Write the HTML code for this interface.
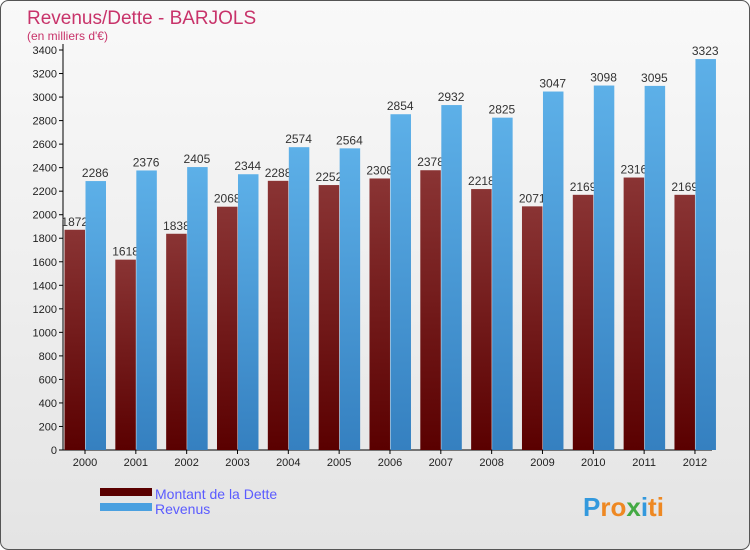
<!DOCTYPE html>
<html><head><meta charset="utf-8"><style>
body{margin:0;background:#fff}
svg{display:block;font-family:"Liberation Sans",sans-serif}
</style></head><body>
<svg width="750" height="550" viewBox="0 0 750 550">
<defs>
<linearGradient id="bg" x1="0" y1="0" x2="0" y2="1"><stop offset="0" stop-color="#f9f9f9"/><stop offset="1" stop-color="#e4e4e4"/></linearGradient>
<linearGradient id="gr" x1="0" y1="0" x2="0" y2="1"><stop offset="0" stop-color="#8a3434"/><stop offset="1" stop-color="#5a0000"/></linearGradient>
<linearGradient id="gb" x1="0" y1="0" x2="0" y2="1"><stop offset="0" stop-color="#5db0e8"/><stop offset="1" stop-color="#3580c0"/></linearGradient>
</defs>
<rect x="0.5" y="0.5" width="749" height="549" rx="8" fill="url(#bg)" stroke="#555"/>
<text x="27" y="24" font-size="19" fill="#c8336a">Revenus/Dette - BARJOLS</text>
<text x="27" y="40" font-size="12" fill="#c8336a">(en milliers d'€)</text>
<g id="axes"></g>
<g id="marks"></g>
<g>
<rect x="100" y="488" width="52" height="8" fill="#5a0000"/>
<text x="155" y="499" font-size="14" fill="#5b5bff">Montant de la Dette</text>
<rect x="100" y="503" width="52" height="8" fill="#4aa0e0"/>
<text x="155" y="514" font-size="14" fill="#5b5bff">Revenus</text>
</g>
<text x="583" y="516" font-size="26" font-weight="bold" fill="#f0a020"><tspan fill="#3399dd">P</tspan><tspan fill="#ee8822">ro</tspan><tspan fill="#44aa44">x</tspan><tspan fill="#3399dd">i</tspan><tspan fill="#ee8822">ti</tspan></text>
</svg>
<script>
const years=["2000","2001","2002","2003","2004","2005","2006","2007","2008","2009","2010","2011","2012"];
const dette=[1872,1618,1838,2068,2288,2252,2308,2378,2218,2071,2169,2316,2169];
const revenus=[2286,2376,2405,2344,2574,2564,2854,2932,2825,3047,3098,3095,3323];
const yTicks=[0,200,400,600,800,1000,1200,1400,1600,1800,2000,2200,2400,2600,2800,3000,3200,3400];
const NS="http://www.w3.org/2000/svg";
const x0=63,y0=450,yTop=50,yMax=3400,step=50.83,first=85,bw=20.5;
const Y=v=>y0-(v/yMax)*(y0-yTop);
const X=i=>first+i*step;
function mk(t,a,p){const e=document.createElementNS(NS,t);for(const k in a)e.setAttribute(k,a[k]);p.appendChild(e);return e;}
const ax=document.getElementById('axes'),mg=document.getElementById('marks');
yTicks.forEach(v=>{
 const l=mk('line',{x1:x0-4,x2:x0,y1:Y(v),y2:Y(v),stroke:'#000'},ax);
 
 
 const t=mk('text',{x:x0-6,y:Y(v)+4,'font-size':11,'text-anchor':'end',fill:'#222'},ax);
 t.textContent=v;
 
 
});
const ya=mk('line',{x1:x0,x2:x0,y1:44,y2:y0,stroke:'#000'},ax);


const xa=mk('line',{x1:x0,x2:712,y1:y0,y2:y0,stroke:'#000'},ax);


years.forEach((y,i)=>{
 const tk=mk('line',{x1:X(i),x2:X(i),y1:y0,y2:y0+4,stroke:'#000'},ax);
 
 
 const t=mk('text',{x:X(i),y:y0+16,'font-size':11,'text-anchor':'middle',fill:'#222'},ax);
 t.textContent=y;
 
 
});
years.forEach((y,i)=>{
 const r=mk('rect',{x:X(i)-bw,y:Y(dette[i]),width:bw,height:y0-Y(dette[i]),fill:'url(#gr)'},mg);
 
 
 const t=mk('text',{x:X(i)-bw/2,y:Y(dette[i])-4,'font-size':12,'text-anchor':'middle',fill:'#333'},mg);
 t.textContent=dette[i];
 
 
});
years.forEach((y,i)=>{
 const r=mk('rect',{x:X(i)+0.5,y:Y(revenus[i]),width:bw,height:y0-Y(revenus[i]),fill:'url(#gb)'},mg);
 
 
 const t=mk('text',{x:X(i)+bw/2,y:Y(revenus[i])-4,'font-size':12,'text-anchor':'middle',fill:'#333'},mg);
 t.textContent=revenus[i];
 
 
});
</script>
</body></html>
